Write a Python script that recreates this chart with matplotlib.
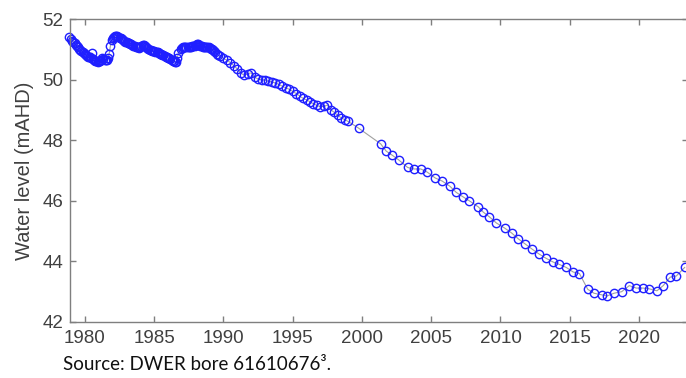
import matplotlib.pyplot as plt

# bore hydrograph
years: list[float] = [
    1978.85, 1979.00, 1979.08, 1979.17, 1979.25, 1979.33, 1979.42, 1979.50,
    1979.58, 1979.67, 1979.75, 1979.83, 1979.92, 1980.00, 1980.08, 1980.17,
    1980.25, 1980.33, 1980.42, 1980.50, 1980.58, 1980.67, 1980.75, 1980.83,
    1980.92, 1981.00, 1981.08, 1981.17, 1981.25, 1981.33, 1981.42, 1981.50,
    1981.58, 1981.67, 1981.75, 1981.83, 1981.92, 1982.00, 1982.08, 1982.17,
    1982.25, 1982.33, 1982.42, 1982.50, 1982.58, 1982.67, 1982.75, 1982.83,
    1982.92, 1983.00, 1983.08, 1983.17, 1983.25, 1983.33, 1983.42, 1983.50,
    1983.58, 1983.67, 1983.75, 1983.83, 1983.92, 1984.00, 1984.08, 1984.17,
    1984.25, 1984.33, 1984.42, 1984.50, 1984.58, 1984.67, 1984.75, 1984.83,
    1984.92, 1985.00, 1985.08, 1985.17, 1985.25, 1985.33, 1985.42, 1985.50,
    1985.58, 1985.67, 1985.75, 1985.83, 1985.92, 1986.00, 1986.08, 1986.17,
    1986.25, 1986.33, 1986.42, 1986.50, 1986.58, 1986.67, 1986.75, 1986.92,
    1987.00, 1987.08, 1987.17, 1987.25, 1987.33, 1987.42, 1987.50, 1987.58,
    1987.67, 1987.75, 1987.83, 1987.92, 1988.00, 1988.08, 1988.17, 1988.25,
    1988.33, 1988.42, 1988.50, 1988.58, 1988.67, 1988.75, 1988.83, 1988.92,
    1989.00, 1989.08, 1989.17, 1989.25, 1989.33, 1989.42, 1989.50, 1989.58,
    1989.75, 1990.00, 1990.25, 1990.50, 1990.75, 1991.00, 1991.25, 1991.50,
    1991.75, 1992.00, 1992.25, 1992.50, 1992.75, 1993.00, 1993.25, 1993.50,
    1993.75, 1994.00, 1994.25, 1994.50, 1994.75, 1995.00, 1995.25, 1995.50,
    1995.75, 1996.00, 1996.25, 1996.50, 1996.75, 1997.00, 1997.25, 1997.50,
    1997.75, 1998.00, 1998.25, 1998.50, 1998.75, 1999.00, 1999.75, 2001.35,
    2001.75, 2002.20, 2002.65, 2003.30, 2003.75, 2004.25, 2004.70, 2005.30,
    2005.80, 2006.35, 2006.80, 2007.30, 2007.75, 2008.40, 2008.75, 2009.20,
    2009.70, 2010.30, 2010.80, 2011.30, 2011.80, 2012.30, 2012.80, 2013.30,
    2013.80, 2014.25, 2014.75, 2015.25, 2015.70, 2016.30, 2016.75, 2017.30,
    2017.70, 2018.20, 2018.75, 2019.30, 2019.80, 2020.30, 2020.70, 2021.30,
    2021.75, 2022.25, 2022.70, 2023.30,
]
levels: list[float] = [
    51.42, 51.33, 51.29, 51.25, 51.20, 51.15, 51.11, 51.07,
    51.02, 50.98, 50.94, 50.90, 50.87, 50.84, 50.81, 50.78,
    50.76, 50.74, 50.70, 50.88, 50.68, 50.64, 50.62, 50.60,
    50.58, 50.60, 50.62, 50.66, 50.70, 50.68, 50.66, 50.65,
    50.64, 50.70, 50.85, 51.10, 51.30, 51.36, 51.40, 51.43,
    51.45, 51.43, 51.40, 51.38, 51.36, 51.33, 51.30, 51.27,
    51.25, 51.24, 51.22, 51.20, 51.18, 51.16, 51.14, 51.12,
    51.10, 51.08, 51.07, 51.06, 51.05, 51.08, 51.12, 51.14,
    51.14, 51.12, 51.08, 51.04, 51.00, 50.98, 50.97, 50.95,
    50.94, 50.93, 50.92, 50.91, 50.90, 50.88, 50.86, 50.84,
    50.82, 50.80, 50.78, 50.76, 50.74, 50.72, 50.70, 50.68,
    50.66, 50.63, 50.60, 50.58, 50.58, 50.72, 50.88, 51.00,
    51.05, 51.08, 51.08, 51.07, 51.06, 51.06, 51.07, 51.08,
    51.09, 51.10, 51.11, 51.12, 51.15, 51.17, 51.17, 51.15,
    51.12, 51.10, 51.08, 51.06, 51.06, 51.07, 51.07, 51.06,
    51.04, 51.02, 51.00, 50.98, 50.94, 50.90, 50.86, 50.82,
    50.78, 50.70, 50.64, 50.56, 50.46, 50.35, 50.22, 50.14,
    50.20, 50.22, 50.08, 50.02, 50.00, 49.98, 49.95, 49.92,
    49.89, 49.84, 49.78, 49.73, 49.68, 49.61, 49.54, 49.46,
    49.38, 49.33, 49.27, 49.20, 49.15, 49.10, 49.12, 49.16,
    49.00, 48.92, 48.82, 48.74, 48.68, 48.62, 48.40, 47.88,
    47.64, 47.50, 47.35, 47.10, 47.05, 47.05, 46.95, 46.75,
    46.65, 46.48, 46.28, 46.13, 46.00, 45.80, 45.63, 45.47,
    45.27, 45.10, 44.94, 44.74, 44.57, 44.40, 44.24, 44.10,
    43.98, 43.90, 43.80, 43.65, 43.60, 43.08, 42.95, 42.90,
    42.86, 42.95, 43.00, 43.20, 43.12, 43.12, 43.10, 43.03,
    43.20, 43.48, 43.52, 43.80,
]
x_ticks: list[int] = [1980, 1985, 1990, 1995, 2000, 2005, 2010, 2015, 2020]
y_ticks: list[int] = [42, 44, 46, 48, 50, 52]
y_label: str = "Water level (mAHD)"
source_note: str = "Source: DWER bore 61610676\u00b3."

AXIS_GREY = "#7f7f7f"
TEXT_GREY = "#404040"

plt.rcParams["font.family"] = ["Liberation Sans", "DejaVu Sans"]

fig = plt.figure(figsize=(6.86, 3.78), dpi=100)
# axes run a little past the right edge, the source image is cropped there
ax = fig.add_axes([70 / 686, 56 / 378, 618 / 686, 303 / 378])

ax.plot(
    years,
    levels,
    color="#a0a0a0",
    linewidth=0.8,
    marker="o",
    markersize=6,
    markerfacecolor="none",
    markeredgecolor="#1f1fff",
    markeredgewidth=1.0,
    clip_on=False,
)

ax.set_xlim(1978.92, 2023.54)
ax.set_ylim(42, 52)
ax.set_xticks(x_ticks)
ax.set_yticks(y_ticks)
ax.tick_params(
    direction="in",
    length=4,
    width=1,
    color=AXIS_GREY,
    labelcolor=TEXT_GREY,
    labelsize=13.5,
    top=True,
    right=True,
)
ax.tick_params(axis="x", pad=6)
ax.tick_params(axis="y", pad=5)
for spine in ax.spines.values():
    spine.set_color(AXIS_GREY)
    spine.set_linewidth(1)

ax.set_ylabel(y_label, fontsize=14.5, color=TEXT_GREY, labelpad=6)

fig.text(
    63 / 686,
    8 / 378,
    source_note,
    fontsize=13.5,
    color="#111111",
    family=["Lato", "DejaVu Sans"],
)

fig.savefig("out.png", dpi=100)
